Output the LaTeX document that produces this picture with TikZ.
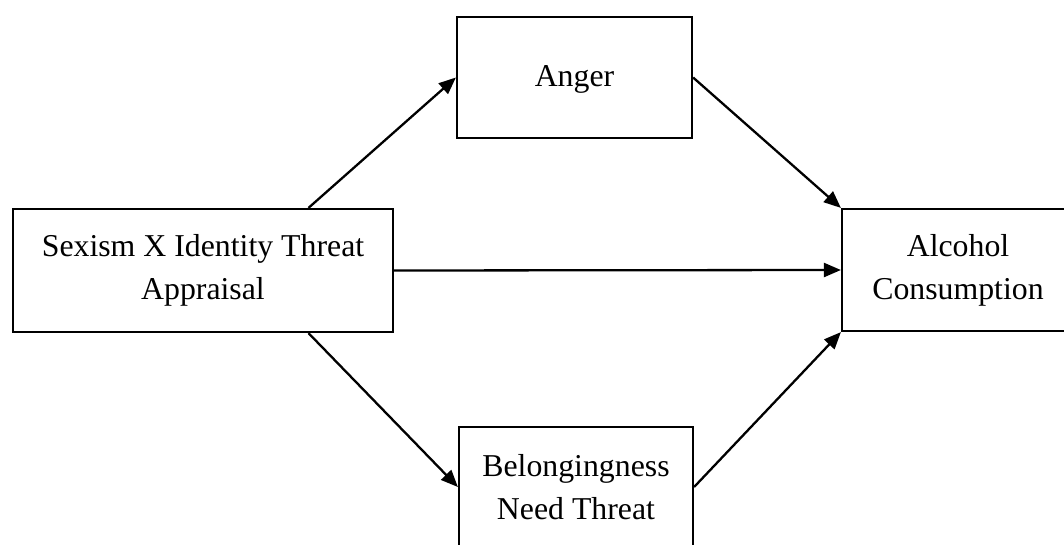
\documentclass[tikz,border=0pt]{standalone}
\usepackage{fontspec}
\setmainfont{Liberation Serif}
\usetikzlibrary{arrows.meta,calc}
\begin{document}
\begin{tikzpicture}[x=1pt,y=-1pt,
  box/.style={draw,line width=2.2pt,align=center,inner sep=0pt,
    font=\fontsize{31.8}{43}\selectfont},
  conn/.style={line width=2.3pt,-{Triangle[length=17pt,width=14pt]}}]
\clip (0,0) rectangle (1064,545);
\node[box,minimum width=380pt,minimum height=123pt] (src) at (203,270.5) {Sexism X Identity Threat\\Appraisal};
\node[box,minimum width=235pt,minimum height=121pt,text depth=2pt] (anger) at (574.5,77.5) {Anger};
\node[box,minimum width=232pt,minimum height=122pt] (alc) at (958,270) {Alcohol\\Consumption};
\node[box,minimum width=234pt,minimum height=120pt] (bel) at (576,487) {Belongingness\\Need Threat};
\coordinate (srcN) at ($(src.north west)!0.776!(src.north east)$);
\coordinate (srcS) at ($(src.south west)!0.776!(src.south east)$);
\draw[conn] (srcN) -- (anger.west);
\draw[conn] (anger.east) -- (alc.north west);
\draw[conn] (src.east) -- (alc.west);
\draw[conn] (srcS) -- (bel.west);
\draw[conn] (bel.east) -- (alc.south west);
\end{tikzpicture}
\end{document}
